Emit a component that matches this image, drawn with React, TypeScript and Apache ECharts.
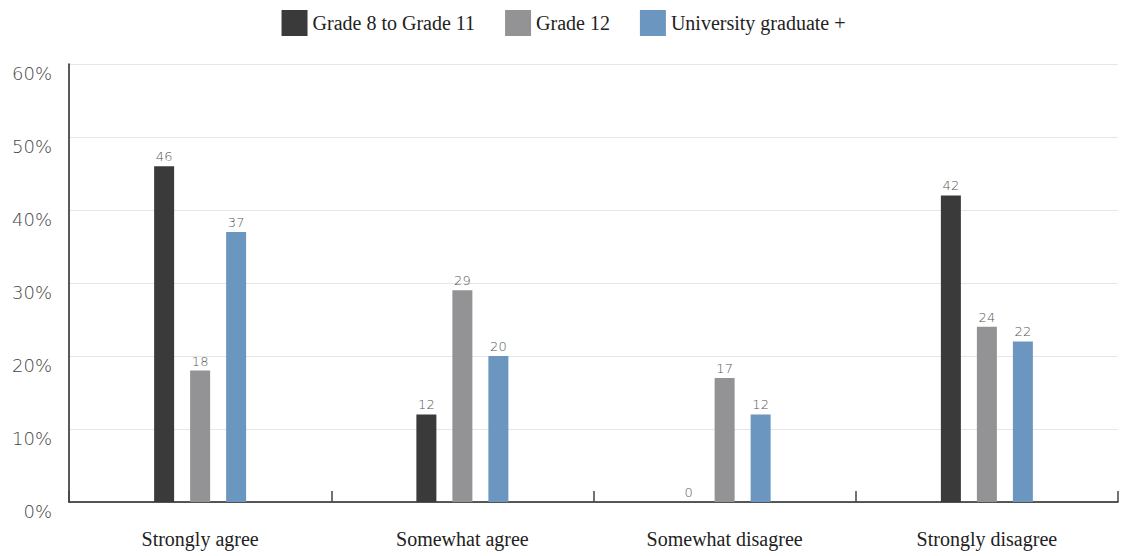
import React, { useEffect, useRef } from "react";
import * as echarts from "echarts";

const categories = ["Strongly agree", "Somewhat agree", "Somewhat disagree", "Strongly disagree"];
const grade8to11 = [46, 12, 0, 42];
const grade12 = [18, 29, 17, 24];
const university = [37, 20, 12, 22];
const seriesNames = ["Grade 8 to Grade 11", "Grade 12", "University graduate +"];
const colors = ["#3a3a3a", "#939295", "#6b96c0"];

const sans = "'DejaVu Sans', 'Open Sans', sans-serif";
const serif = "'Liberation Serif', 'DejaVu Serif', serif";

export default function App() {
  const ref = useRef<HTMLDivElement>(null);
  useEffect(() => {
    if (!ref.current) return;
    const chart = echarts.init(ref.current, undefined, { renderer: "svg" });
    const mk = (name: string, data: number[], color: string) => ({
      name,
      type: "bar",
      data,
      barWidth: 20,
      barGap: "80%",
      itemStyle: { color },
      label: {
        show: true,
        position: "top",
        distance: 3,
        color: "#555",
        fontFamily: sans,
        fontWeight: 200,
        fontSize: 13,
      },
    });
    chart.setOption({
      animation: false,
      legend: {
        top: 5,
        left: "center",
        itemWidth: 26,
        itemHeight: 26,
        itemGap: 30,
        icon: "rect",
        textStyle: { fontFamily: serif, fontSize: 20, color: "#222" },
        data: seriesNames,
      },
      grid: { left: 69, right: 9, top: 64, bottom: 54, containLabel: false },
      xAxis: {
        type: "category",
        data: categories,
        axisLine: { lineStyle: { color: "#222", width: 1.5 } },
        axisTick: { show: true, inside: true, length: 11, lineStyle: { color: "#444", width: 1.5 } },
        axisLabel: {
          fontFamily: serif,
          fontSize: 20,
          color: "#222",
          margin: 27,
        },
      },
      yAxis: {
        type: "value",
        min: 0,
        max: 60,
        interval: 10,
        axisLine: { show: true, lineStyle: { color: "#222", width: 1.5 } },
        axisTick: { show: false },
        splitLine: { lineStyle: { color: "#e6e6e6" } },
        axisLabel: {
          formatter: "{value}%",
          fontFamily: sans,
          fontWeight: 200,
          fontSize: 18,
          color: "#444",
          verticalAlign: "top",
          margin: 17,
        },
      },
      series: [
        mk(seriesNames[0], grade8to11, colors[0]),
        mk(seriesNames[1], grade12, colors[1]),
        mk(seriesNames[2], university, colors[2]),
      ],
    });
    return () => chart.dispose();
  }, []);
  return (
    <div
      ref={ref}
      style={{ position: "fixed", left: 0, top: 0, width: 1127, height: 556, background: "#fff" }}
    />
  );
}
